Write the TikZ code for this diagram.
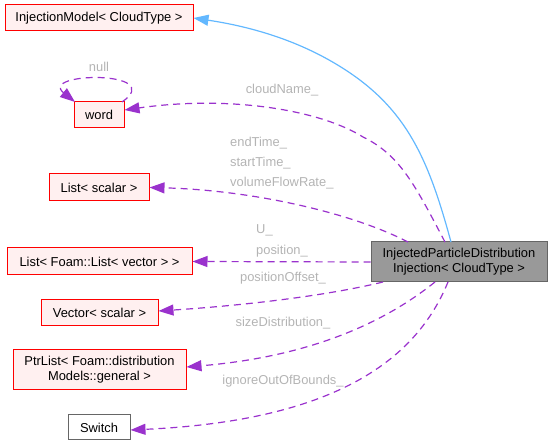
\documentclass[tikz,border=0pt]{standalone}
\usepackage{fontspec}
\setmainfont{Liberation Sans}
\usetikzlibrary{arrows.meta}
\definecolor{boxred}{HTML}{FF0000}
\definecolor{boxfill}{HTML}{FFF0F0}
\definecolor{greyline}{HTML}{666666}
\definecolor{mainfill}{HTML}{999999}
\definecolor{usepurple}{HTML}{9A32CD}
\definecolor{inhblue}{HTML}{63B8FF}
\definecolor{labgrey}{HTML}{B4B4B4}
\tikzset{
  every node/.style={font=\fontsize{12.9}{15}\selectfont, inner sep=0pt, align=center},
  redbox/.style={draw=boxred, fill=boxfill, line width=1pt, rectangle},
  greybox/.style={draw=greyline, fill=white, line width=1pt, rectangle},
  mainbox/.style={draw=greyline, fill=mainfill, line width=1pt, rectangle},
  uses/.style={draw=usepurple, line width=1.2pt, dash pattern=on 7pt off 5pt, -{Triangle[length=15pt,width=11pt]}},
  inherit/.style={draw=inhblue, line width=1.2pt, -{Triangle[length=15pt,width=11pt]}},
  elabel/.style={text=labgrey},
}
\begin{document}
\begin{tikzpicture}[x=1pt,y=-1pt]
\useasboundingbox (0,0) rectangle (552,446);
% nodes
\node[redbox, minimum width=188pt, minimum height=26pt] (inj) at (99,18) {InjectionModel< CloudType >};
\node[redbox, minimum width=50pt, minimum height=26pt] (word) at (99,115) {word};
\node[redbox, minimum width=100pt, minimum height=27pt] (lsc) at (99,187.5) {List< scalar >};
\node[redbox, minimum width=185pt, minimum height=27pt] (lfl) at (99.5,261.5) {List< Foam::List< vector > >};
\node[redbox, minimum width=117pt, minimum height=26pt] (vec) at (99.5,312.5) {Vector< scalar >};
\node[redbox, minimum width=173pt, minimum height=40pt] (ptr) at (99.5,370) {PtrList< Foam::distribution\\Models::general >};
\node[greybox, minimum width=62pt, minimum height=25pt] (sw) at (99,427.5) {Switch};
\node[mainbox, minimum width=176pt, minimum height=40pt] (main) at (459,262) {InjectedParticleDistribution\\Injection< CloudType >};
% coordinates on main border
\coordinate (mInj) at (451,242);
\coordinate (mWord) at (445,242);
\coordinate (mLsc) at (408,242);
\coordinate (mVec) at (383,282);
\coordinate (mPtr) at (435,282);
\coordinate (mSw) at (448,282);
\coordinate (wTop) at (122,102);
\coordinate (wLeft) at (75,102);
% edges
\draw[inherit] (mInj) .. controls (430,165) and (410,115) .. (353,75) .. controls (310,45) and (260,28) .. (inj.east);
\draw[uses] (wTop) .. controls (168,70) and (38,72) .. (wLeft);
\draw[uses] (mWord) .. controls (415,185) and (400,155) .. (363,137) .. controls (320,110) and (230,95) .. (word.east |- 0,110);
\draw[uses] (mLsc) .. controls (350,212) and (250,190) .. (lsc.east);
\draw[uses] (main.west) -- (lfl.east);
\draw[uses] (mVec) .. controls (330,295) and (250,305) .. (vec.east |- 0,311);
\draw[uses] (mPtr) .. controls (400,310) and (330,355) .. (ptr.east |- 0,367);
\draw[uses] (mSw) .. controls (420,350) and (350,420) .. (sw.east |- 0,430);
% labels
\node[elabel] (lnull) at (99,67) {null};
\node[elabel] (lcloud) at (282,90) {cloudName\_};
\node[elabel, align=left, anchor=west, font=\fontsize{12.9}{20}\selectfont] (ltimes) at (230,163) {endTime\_\\startTime\_\\volumeFlowRate\_};
\node[elabel, align=left, anchor=west, font=\fontsize{12.9}{21}\selectfont] (lpos) at (256,240.5) {U\_\\position\_};
\node[elabel] (loff) at (283,278) {positionOffset\_};
\node[elabel] (lsize) at (283,323) {sizeDistribution\_};
\node[elabel] (lign) at (283,381) {ignoreOutOfBounds\_};
\end{tikzpicture}
\end{document}
